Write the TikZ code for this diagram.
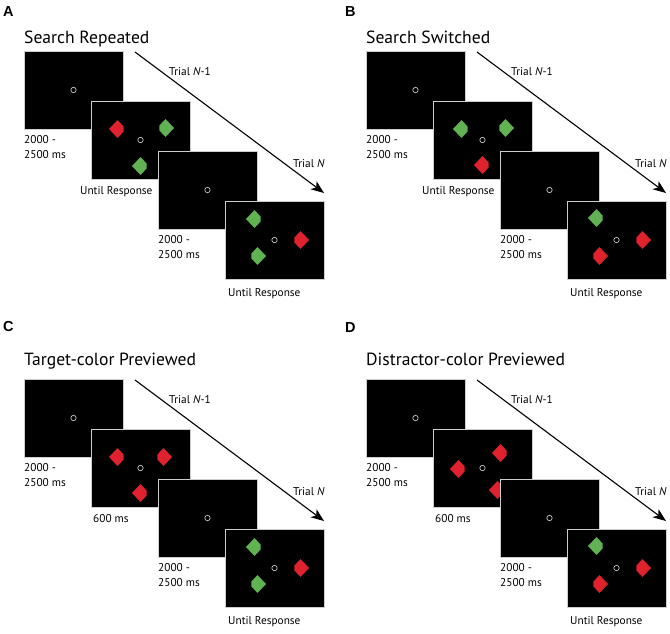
\documentclass[tikz,border=0pt]{standalone}
\usepackage{fontspec}
\setmainfont{PT Sans}
\newfontfamily\labfont{Liberation Sans}
\usetikzlibrary{arrows.meta,calc}
\definecolor{gred}{RGB}{224,34,46}
\definecolor{ggreen}{RGB}{96,178,82}
\definecolor{sborder}{RGB}{205,205,205}
\tikzset{
  screen/.style={fill=black,draw=sborder,line width=1pt,minimum width=99pt,
    minimum height=78pt,inner sep=0pt,outer sep=0pt,anchor=north west},
  fixdot/.style={circle,draw=white!88!black,line width=0.6pt,minimum size=5.4pt,inner sep=0pt},
  lab/.style={font=\fontsize{11.3}{13}\selectfont,anchor=base west,inner sep=0pt},
  ttl/.style={font=\fontsize{17.6}{20}\selectfont,anchor=base west,inner sep=0pt},
  letter/.style={font=\labfont\bfseries\fontsize{14.5}{16}\selectfont,anchor=base west,inner sep=0pt},
  trialarrow/.style={line width=1.1pt,-{Stealth[length=13pt,width=10pt,inset=3.5pt]}}
}
% diamond with one corner cut: #1 colour, #2 screen, #3 dx, #4 dy, #5 side (1 right, -1 left)
\newcommand\gem[5]{\fill[#1,shift={($(#2)+(#3,#4)$)},xscale=#5]
  (0,-9) -- (6.2,-2.4) -- (6.2,2.4) -- (0,9) -- (-8.5,0) -- cycle;}
% #1 prefix, #2 x of label 2, #3 label 2 text, #4 screen-2 items, #5 screen-4 items
\newcommand\trialseq[5]{%
  \node[screen] (#1s1) at (24,51) {};
  \node[fixdot] (#1f1) at (#1s1.center) {};
  \node[screen] (#1s2) at (91,101) {};
  \node[fixdot] (#1f2) at (#1s2.center) {};
  #4
  \node[screen] (#1s3) at (158,151) {};
  \node[fixdot] (#1f3) at (#1s3.center) {};
  \node[screen] (#1s4) at (225,201) {};
  \node[fixdot] (#1f4) at (#1s4.center) {};
  #5
  \node[lab] (#1la) at (24,143) {2000 -};
  \node[lab] (#1lb) at (24,158) {2500 ms};
  \node[lab] (#1lc) at (#2,194) {#3};
  \node[lab] (#1ld) at (158,243) {2000 -};
  \node[lab] (#1le) at (158,258) {2500 ms};
  \node[lab] (#1lf) at (228,296) {Until Response};
  \coordinate (#1a0) at (135,52);
  \coordinate (#1a1) at (324,193);
  \draw[trialarrow] (#1a0) -- (#1a1);
  \node[lab] (#1tn1) at (169,75) {Trial \textit{N}-1};
  \node[lab] (#1tn) at (293,167) {Trial \textit{N}};
}
\begin{document}
\begin{tikzpicture}[x=1pt,y=-1pt]
\useasboundingbox (0,0) rectangle (670,633);
\fill[white] (0,0) rectangle (670,633);

% Panel A
\node[letter] (LA) at (3,16) {A};
\node[ttl] (TA) at (24,43) {Search Repeated};
\begin{scope}
\trialseq{A}{80}{Until Response}{%
  \gem{gred}{As2}{-23}{-11}{1}
  \gem{ggreen}{As2}{25}{-12}{-1}
  \gem{ggreen}{As2}{0}{26}{1}}{%
  \gem{ggreen}{As4}{-20}{-21}{1}
  \gem{gred}{As4}{26}{0}{-1}
  \gem{ggreen}{As4}{-17}{16}{-1}}
\end{scope}

% Panel B
\node[letter] (LB) at (345,16) {B};
\node[ttl] (TB) at (366,43) {Search Switched};
\begin{scope}[shift={(342,0)}]
\trialseq{B}{80}{Until Response}{%
  \gem{ggreen}{Bs2}{-21}{-11}{1}
  \gem{ggreen}{Bs2}{23}{-12}{-1}
  \gem{gred}{Bs2}{0}{25}{1}}{%
  \gem{ggreen}{Bs4}{-20}{-22}{1}
  \gem{gred}{Bs4}{26}{0}{-1}
  \gem{gred}{Bs4}{-17}{16}{-1}}
\end{scope}

% Panel C
\node[letter] (LC) at (3,331) {C};
\node[ttl] (TC) at (24,365) {Target-color Previewed};
\begin{scope}[shift={(0,328)}]
\trialseq{C}{93}{600 ms}{%
  \gem{gred}{Cs2}{-23}{-11}{1}
  \gem{gred}{Cs2}{23}{-11}{-1}
  \gem{gred}{Cs2}{0}{25}{1}}{%
  \gem{ggreen}{Cs4}{-20}{-21}{1}
  \gem{gred}{Cs4}{26}{0}{-1}
  \gem{ggreen}{Cs4}{-17}{16}{-1}}
\end{scope}

% Panel D
\node[letter] (LD) at (345,332) {D};
\node[ttl] (TD) at (366,365) {Distractor-color Previewed};
\begin{scope}[shift={(342,328)}]
\trialseq{D}{93}{600 ms}{%
  \gem{gred}{Ds2}{-24}{1}{1}
  \gem{gred}{Ds2}{18}{-15}{1}
  \gem{gred}{Ds2}{15}{22}{1}}{%
  \gem{ggreen}{Ds4}{-20}{-22}{1}
  \gem{gred}{Ds4}{26}{0}{-1}
  \gem{gred}{Ds4}{-17}{16}{-1}}
\end{scope}
\end{tikzpicture}
\end{document}
